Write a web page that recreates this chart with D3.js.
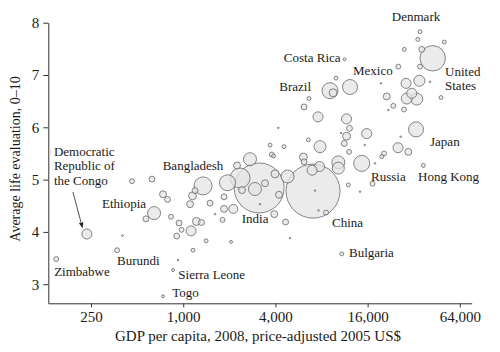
<!DOCTYPE html>
<html>
<head>
<meta charset="utf-8">
<script src="https://cdn.jsdelivr.net/npm/d3@7"></script>
<style>
body { margin: 0; background: #fff; }
text { font-family: "Liberation Serif", "DejaVu Serif", serif; fill: #1a1a1a; }
</style>
</head>
<body>
<div id="chart"></div>
<script>
// countries (blank = unlabelled), ten per row
var names = [
  "Democratic Republic of the Congo","Zimbabwe","","","","Burundi","Ethiopia","","","",
  "","Sierra Leone","","Togo","","","","","","",
  "","","","","","Bangladesh","","","","",
  "","","","","","","","India","","",
  "","","","","","","","","China","",
  "","","Bulgaria","","","","Russia","","","",
  "","","Hong Kong","","Japan","","","","","",
  "","","","","","","","","","",
  "","","","","","Brazil","","Mexico","Costa Rica","",
  "","","","","","","","","","",
  "","","","","","","","","United States","",
  "","","","Denmark"];
// GDP per capita (2005 US$), life evaluation, population (millions)
var gdp = [235,148,463,625,401,370,645,571,738,790,832,
  858,925,738,939,975,907,1125,1220,1317,1410,1159,1108,1150,1194,1347,1496,1613,1806,1847,1847,2124,2052,1946,2350,2245,2730,
  3130,2940,3420,2420,3976,4800,4220,3170,3930,4660,4980,7040,7250,7650,8560,10840,11970,14270,17220,14640,17880,20480,19780,25270,29500,
  36970,26320,33130,15780,15320,11650,12180,11650,11270,12100,10730,10300,10300,7760,6940,6090,6150,7820,6560,4550,6150,7590,6630,9090,9510,12280,
  11310,9950,4180,3690,3785,3890,19570,21320,23550,27660,21840,28500,34830,31060,28810,33480,48230,40900,25380,35180,42580,36100,27780,50630,34000,35180];
var life = [3.96,3.48,4.97,5.01,3.93,3.65,4.36,4.25,4.72,4.62,4.29,
  3.27,3.46,2.77,4.17,4.04,3.92,4.02,4.20,4.18,3.83,3.65,4.53,4.69,4.79,4.88,4.55,4.34,4.23,4.67,4.44,4.44,3.81,4.94,5.03,5.27,5.39,
  4.84,4.82,4.93,4.80,5.11,5.06,4.71,4.53,4.34,4.19,3.88,4.78,4.79,4.41,4.37,3.58,4.90,4.77,4.92,5.31,5.31,5.50,5.44,5.61,5.53,
  5.27,5.82,5.96,5.88,5.66,6.16,5.98,5.83,5.69,5.53,5.89,5.33,5.22,5.25,5.18,5.43,5.34,5.63,5.76,5.63,6.39,6.20,6.55,6.70,6.66,6.77,
  7.30,6.94,5.99,5.66,5.48,5.45,6.84,6.59,6.41,6.34,6.33,6.84,6.89,6.65,6.55,6.54,6.57,6.87,7.16,7.16,7.32,7.49,7.49,7.63,7.68,7.83];
var pop = [46,11,11,16,1,11,77,16,22,16,11,
  4,1,4,16,11,16,46,29,16,7,7,22,29,16,148,16,1,11,16,22,37,4,117,183,22,77,
  1140,77,22,22,29,77,22,1,22,16,1,1330,1,1,11,7,7,1,11,117,1,11,7,46,22,
  7,1,103,46,1,46,16,29,16,11,1,77,66,46,46,29,16,66,7,7,16,46,7,117,29,103,
  4,7,1,7,11,7,1,22,11,11,1,46,55,46,55,66,7,1,11,11,295,16,7,7,7,7];

var xTicks = [250, 1000, 4000, 16000, 64000];
var yTicks = [3, 4, 5, 6, 7, 8];

var width = 500, height = 352;

var data = gdp.map(function(g, i) {
  return {name: names[i] || "", gdp: g, life: life[i], pop: pop[i]};
});

var svg = d3.select("#chart").append("svg")
  .attr("width", width)
  .attr("height", height);

var x = d3.scaleLog().domain([131.5, 76500]).range([48.3, 471.7]);
var y = d3.scaleLinear().domain([2.635, 8]).range([303.3, 22.7]);
var r = d3.scaleSqrt().domain([0, 1330]).range([0, 27]);

// axes
svg.append("g")
  .attr("transform", "translate(0,303.3)")
  .call(d3.axisBottom(x).tickValues(xTicks).tickFormat(d3.format(","))
    .tickSize(4).tickSizeOuter(0).tickPadding(4));
svg.append("g")
  .attr("transform", "translate(48.3,0)")
  .call(d3.axisLeft(y).tickValues(yTicks).tickFormat(d3.format("d"))
    .tickSize(5).tickSizeOuter(0).tickPadding(4));
svg.selectAll(".tick text").style("font-family", "Liberation Serif").style("font-size", "15px").attr("fill", "#1a1a1a");
svg.selectAll(".domain, .tick line").attr("stroke", "#333");

svg.append("text")
  .attr("x", 258)
  .attr("y", 341)
  .attr("text-anchor", "middle")
  .style("font-size", "15px")
  .text("GDP per capita, 2008, price-adjusted 2005 US$");

svg.append("text")
  .attr("transform", "translate(20,159) rotate(-90)")
  .attr("text-anchor", "middle")
  .style("font-size", "14px")
  .text("Average life evaluation, 0\u201310");

// bubbles, biggest first
var sorted = data.slice().sort(function(a, b) { return b.pop - a.pop; });
svg.append("g").selectAll("circle")
  .data(sorted)
  .enter().append("circle")
  .attr("cx", function(d) { return x(d.gdp); })
  .attr("cy", function(d) { return y(d.life); })
  .attr("r", function(d) { return Math.max(0.8, r(d.pop)); })
  .attr("fill", "#e4e4e4")
  .attr("fill-opacity", 0.75)
  .attr("stroke", "#555")
  .attr("stroke-width", 0.7);

// labels: offsets from the bubble centre
var labels = [
  {name: "Denmark", lines: ["Denmark"], dx: -4, dy: -10.5, anchor: "middle"},
  {name: "Costa Rica", lines: ["Costa Rica"], dx: -4, dy: 2.5, anchor: "end"},
  {name: "Mexico", lines: ["Mexico"], dx: 3, dy: -12, anchor: "start"},
  {name: "Brazil", lines: ["Brazil"], dx: -19, dy: 0.5, anchor: "end"},
  {name: "United States", lines: ["United", "States"], dx: 12.3, dy: 17.5, anchor: "start"},
  {name: "Japan", lines: ["Japan"], dx: 14, dy: 16.5, anchor: "start"},
  {name: "Hong Kong", lines: ["Hong Kong"], dx: -5.3, dy: 15.3, anchor: "start"},
  {name: "Russia", lines: ["Russia"], dx: 9.3, dy: 17.5, anchor: "start"},
  {name: "China", lines: ["China"], dx: 19, dy: 36, anchor: "start"},
  {name: "Bulgaria", lines: ["Bulgaria"], dx: 7.3, dy: 3.5, anchor: "start"},
  {name: "India", lines: ["India"], dx: -4, dy: 35, anchor: "middle"},
  {name: "Bangladesh", lines: ["Bangladesh"], dx: -10, dy: -16, anchor: "middle"},
  {name: "Democratic Republic of the Congo", lines: ["Democratic", "Republic of", "the Congo"], dx: -33, dy: -78, anchor: "start"},
  {name: "Ethiopia", lines: ["Ethiopia"], dx: -8, dy: -5, anchor: "end"},
  {name: "Burundi", lines: ["Burundi"], dx: 0, dy: 14.3, anchor: "start"},
  {name: "Zimbabwe", lines: ["Zimbabwe"], dx: -2, dy: 17, anchor: "start"},
  {name: "Sierra Leone", lines: ["Sierra Leone"], dx: 5.3, dy: 9, anchor: "start"},
  {name: "Togo", lines: ["Togo"], dx: 9.3, dy: 0.5, anchor: "start"}
];

var byName = {};
data.forEach(function(d) { if (d.name) byName[d.name] = d; });

labels.forEach(function(l) {
  var d = byName[l.name];
  var t = svg.append("text")
    .attr("text-anchor", l.anchor)
    .style("font-size", "13px");
  l.lines.forEach(function(line, i) {
    t.append("tspan")
      .attr("x", x(d.gdp) + l.dx)
      .attr("y", y(d.life) + l.dy + i * 14.5)
      .text(line);
  });
});

// arrow pointing at the Congo
svg.append("defs").append("marker")
  .attr("id", "arrow")
  .attr("viewBox", "0 0 10 10")
  .attr("refX", 9).attr("refY", 5)
  .attr("markerWidth", 7).attr("markerHeight", 7)
  .attr("orient", "auto")
  .append("path")
  .attr("d", "M0,1 L10,5 L0,9 Z")
  .attr("fill", "#222");

var drc = byName["Democratic Republic of the Congo"];
svg.append("line")
  .attr("x1", x(drc.gdp) - 14).attr("y1", y(drc.life) - 42)
  .attr("x2", x(drc.gdp) - 4.5).attr("y2", y(drc.life) - 6.5)
  .attr("stroke", "#222")
  .attr("stroke-width", 0.8)
  .attr("marker-end", "url(#arrow)");
</script>
</body>
</html>
